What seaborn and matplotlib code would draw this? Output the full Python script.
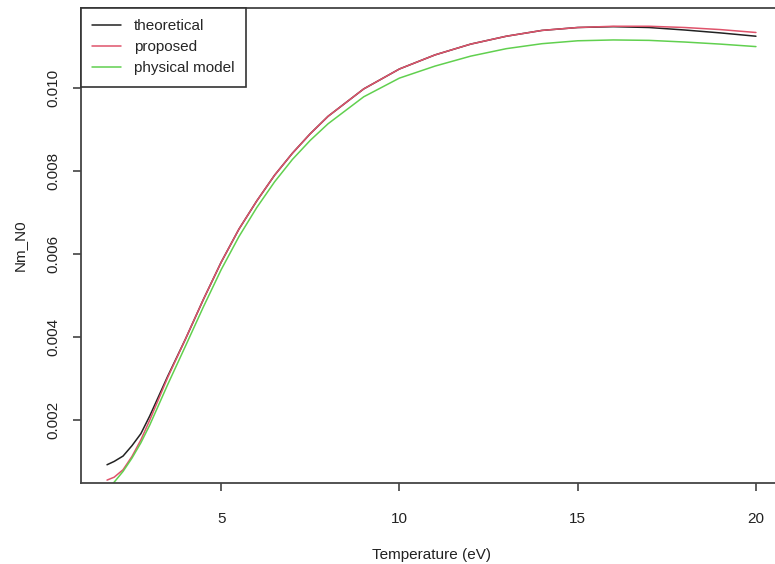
import matplotlib
matplotlib.use("Agg")
import matplotlib.pyplot as plt
import numpy as np
import pandas as pd
import seaborn as sns

# temperature grid (eV)
temperature = [1.8, 2.0, 2.25, 2.5, 2.75, 3.0, 3.5, 4.0, 4.5, 5.0, 5.5, 6.0, 6.5,
               7.0, 7.5, 8.0, 9.0, 10.0, 11.0, 12.0, 13.0, 14.0, 15.0, 16.0,
               17.0, 18.0, 19.0, 20.0]

theoretical = [0.00092, 0.00100, 0.00113, 0.00138, 0.00167, 0.00210, 0.00305,
               0.00395, 0.00490, 0.00580, 0.00660, 0.00728, 0.00790, 0.00843,
               0.00890, 0.00932, 0.00998, 0.01046, 0.01080, 0.01106, 0.01125,
               0.01139, 0.01146, 0.01148, 0.01146, 0.01140, 0.01133, 0.01125]

proposed = [0.00055, 0.00062, 0.00080, 0.00112, 0.00152, 0.00200, 0.00302,
            0.00395, 0.00490, 0.00580, 0.00660, 0.00728, 0.00790, 0.00843,
            0.00890, 0.00932, 0.00998, 0.01046, 0.01080, 0.01106, 0.01125,
            0.01139, 0.01146, 0.01149, 0.01149, 0.01146, 0.01141, 0.01134]

physical = [0.00030, 0.00050, 0.00076, 0.00108, 0.00145, 0.00188, 0.00285,
            0.00378, 0.00472, 0.00562, 0.00642, 0.00712, 0.00774, 0.00828,
            0.00874, 0.00914, 0.00979, 0.01024, 0.01053, 0.01077, 0.01095,
            0.01107, 0.01114, 0.01116, 0.01115, 0.01111, 0.01106, 0.01100]

series_names = ["theoretical", "proposed", "physical model"]
series_colors = ["#222222", "#DF536B", "#61D04F"]

df = pd.concat([
    pd.DataFrame({"T": temperature, "v": theoretical, "series": "theoretical"}),
    pd.DataFrame({"T": temperature, "v": proposed, "series": "proposed"}),
    pd.DataFrame({"T": temperature, "v": physical, "series": "physical model"}),
])

sns.set_style("ticks")
plt.rcParams["font.family"] = ["Liberation Sans", "DejaVu Sans"]

fig = plt.figure(figsize=(7.75, 5.64), dpi=100)
ax = fig.add_axes([0.1045, 0.1436, 0.9045, 0.8422])

sns.lineplot(data=df, x="T", y="v", hue="series", hue_order=series_names,
             palette=dict(zip(series_names, series_colors)), linewidth=1.1,
             ax=ax, sort=False)

ax.set_xlim(1.07, 20.73)
ax.set_ylim(0.00048, 0.01193)
ax.set_xticks([5, 10, 15, 20])
ax.set_yticks([0.002, 0.004, 0.006, 0.008, 0.010])
ax.set_yticklabels(["0.002", "0.004", "0.006", "0.008", "0.010"],
                   rotation=90, va="center")
ax.tick_params(axis="both", direction="out", length=6, width=1.1,
               color="#333333", labelsize=11, labelcolor="#222222")
ax.tick_params(axis="x", pad=15)
ax.tick_params(axis="y", pad=9)
for s in ax.spines.values():
    s.set_color("#444444")
    s.set_linewidth(1.3)

ax.set_xlabel("Temperature (eV)", fontsize=11, color="#222222", labelpad=16)
ax.set_ylabel("Nm_N0", fontsize=11, color="#222222", labelpad=14)

leg = ax.legend(loc="upper left", borderaxespad=0, fancybox=False,
                framealpha=1, edgecolor="#333333", fontsize=11,
                handlelength=1.9, handletextpad=0.8, labelspacing=0.45,
                borderpad=0.75)
leg.get_frame().set_linewidth(1.2)

fig.savefig("out.png", dpi=100)
